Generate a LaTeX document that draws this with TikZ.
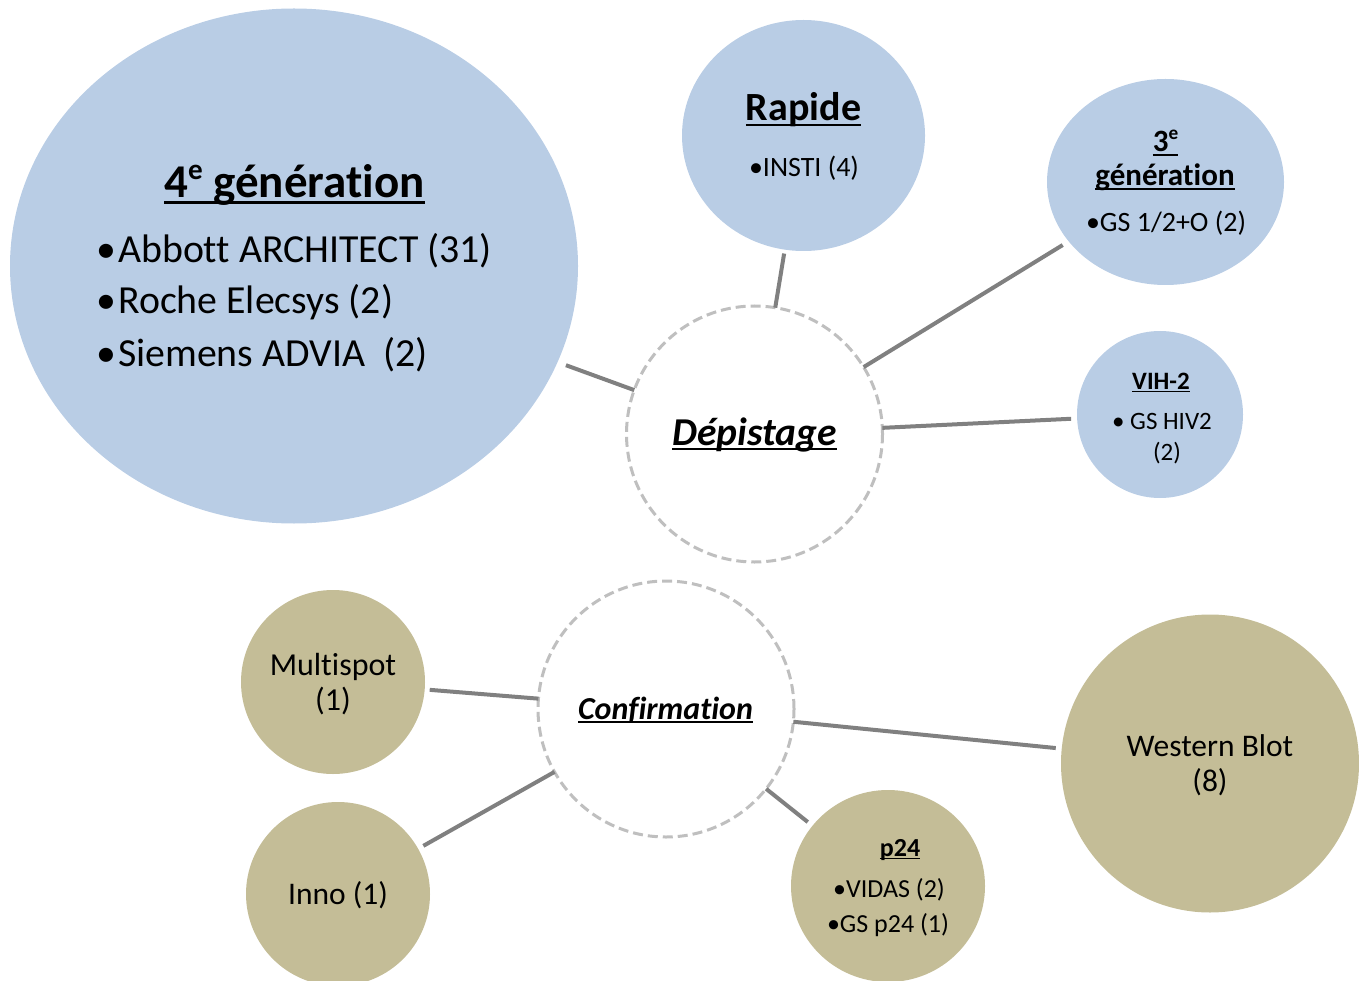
\documentclass[tikz,border=0pt]{standalone}
\usepackage{fontspec}
\setmainfont{Carlito}[Ligatures=NoCommon]
\usetikzlibrary{shapes.geometric}
\definecolor{bubbleblue}{HTML}{B9CDE5}
\definecolor{bubbletan}{HTML}{C4BD97}
\definecolor{connc}{HTML}{808080}
\definecolor{dashc}{HTML}{BFBFBF}
\newsavebox\ulbox
\newcommand\myul[1]{\sbox\ulbox{#1}\rlap{\rule[-0.13em]{\wd\ulbox}{0.065em}}\usebox\ulbox}
\newcommand\mysup[1]{\raisebox{0.4em}{\scalebox{0.62}{#1}}}
\newcommand\fs[1]{\fontsize{#1}{#1}\selectfont}
\begin{document}
\begin{tikzpicture}[x=1pt,y=-1pt,
  bub/.style={ellipse, inner sep=0pt, outer sep=0pt},
  bblue/.style={bub, fill=bubbleblue},
  btan/.style={bub, fill=bubbletan},
  hub/.style={circle, draw=dashc, line width=3pt, dash pattern=on 10pt off 5pt, fill=white, minimum size=256pt, inner sep=0pt, outer sep=0pt},
  conn/.style={draw=connc, line width=4pt},
  txt/.style={anchor=base, inner sep=0pt},
  txtl/.style={anchor=base west, inner sep=0pt}
]
\useasboundingbox (0,0) rectangle (1359,981);
\clip (0,0) rectangle (1359,981);

% bubbles
\node[bblue, minimum width=568pt, minimum height=515pt] (g4) at (294,266) {};
\node[bblue, minimum width=243pt, minimum height=231pt] (rap) at (803.5,135.5) {};
\node[bblue, minimum width=237pt, minimum height=206pt] (g3) at (1165.5,182) {};
\node[bblue, minimum width=166pt, minimum height=167pt] (vih) at (1160,414.5) {};
\node[hub] (dep) at (754.5,434) {};
\node[hub] (conf) at (666,709) {};
\node[btan, minimum width=184pt, minimum height=184pt] (multi) at (333,682) {};
\node[btan, minimum width=184pt, minimum height=184pt] (inno) at (338,894) {};
\node[btan, minimum width=194pt, minimum height=192pt] (p24) at (888,886) {};
\node[btan, minimum width=298pt, minimum height=298pt] (wb) at (1210,763.5) {};

% connectors
\draw[conn, shorten >=9pt] (dep) -- (g4);
\draw[conn, shorten >=4pt] (dep) -- (rap);
\draw[conn, shorten >=7pt] (dep) -- (g3);
\draw[conn, shorten >=6pt] (dep) -- (vih);
\draw[conn, shorten >=5pt] (conf) -- (multi);
\draw[conn, shorten >=6pt] (conf) -- (inno);
\draw[conn, shorten >=6pt] (conf) -- (p24);
\draw[conn, shorten >=6pt] (conf) -- (wb);

% texts: 4e generation
\node[txt, font=\bfseries\fs{47}] (t4) at (294.5,198) {\myul{4\mysup{e} génération}};
\node[txtl, font=\fs{39.8}] (t4a) at (96,263) {\makebox[22pt][l]{•}Abbott ARCHITECT (31)};
\node[txtl, font=\fs{39.8}] (t4b) at (96,314) {\makebox[22pt][l]{•}Roche Elecsys (2)};
\node[txtl, font=\fs{39.8}] (t4c) at (96,366) {\makebox[22pt][l]{•}Siemens ADVIA\ \ (2)};

% Rapide
\node[txt, font=\bfseries\fs{40}] (trap) at (803.5,121) {\myul{Rapide}};
\node[txt, font=\fs{28}] (trapa) at (804,177) {•INSTI (4)};

% 3e generation
\node[txt, font=\bfseries\fs{31}] (t3) at (1165.5,152) {\myul{3\mysup{e}}};
\node[txt, font=\bfseries\fs{31}] (t3b) at (1165,186) {\myul{génération}};
\node[txt, font=\fs{28}] (t3c) at (1166,232) {•GS 1/2+O (2)};

% VIH-2
\node[txt, font=\bfseries\fs{25}] (tv) at (1161,389) {\myul{VIH-2}};
\node[txt, font=\fs{25}] (tva) at (1162,429) {• GS HIV2};
\node[txt, font=\fs{25}] (tvb) at (1167,460) {(2)};

% hubs
\node[txt, font=\bfseries\itshape\fs{39.5}] (tdep) at (754.5,445) {\myul{Dépistage}};
\node[txt, font=\bfseries\itshape\fs{32}] (tconf) at (665.5,719) {\myul{Confirmation}};

% confirmation bubbles
\node[txt, font=\fs{32}] (tm) at (333,675) {Multispot};
\node[txt, font=\fs{32}] (tmb) at (333,710) {(1)};
\node[txt, font=\fs{31.5}] (ti) at (338,904) {Inno (1)};
\node[txt, font=\bfseries\fs{26}] (tp) at (900,856) {\myul{p24}};
\node[txt, font=\fs{26}] (tpa) at (889,897) {•VIDAS (2)};
\node[txt, font=\fs{26}] (tpb) at (888,932) {•GS p24 (1)};
\node[txt, font=\fs{31.5}] (tw) at (1210,756) {Western Blot};
\node[txt, font=\fs{31.5}] (twb) at (1210,791) {(8)};
\end{tikzpicture}
\end{document}
